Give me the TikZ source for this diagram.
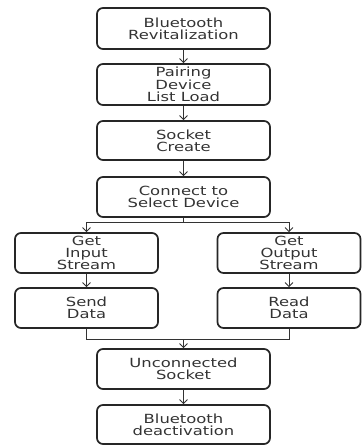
\documentclass[tikz,border=0pt]{standalone}
\usepackage{fontspec}
\setmainfont{DejaVu Sans}[FakeStretch=1.3]
\usetikzlibrary{arrows.meta}
\begin{document}
\begin{tikzpicture}[x=1pt,y=-1pt,
  box/.style={draw=black!85, line width=1.7pt, rounded corners=6pt, align=center,
    minimum width=173pt, minimum height=40pt, inner sep=0pt,
    font=\fontsize{12.6}{12.3}\selectfont, text=black!80},
  sbox/.style={box, minimum width=143pt},
  link/.style={draw=black!80, line width=0.9pt},
  arr/.style={link, -{Straight Barb[length=4pt,width=8pt,line width=0.9pt]}}]
\useasboundingbox (0,0) rectangle (362,446);
\node[box, minimum height=41pt] (b1) at (183.5,28.5) {Bluetooth\\Revitalization};
\node[box, minimum height=41pt] (b2) at (183.5,84.5) {Pairing\\Device\\List Load};
\node[box, minimum height=39pt] (b3) at (183.5,140.5) {Socket\\Create};
\node[box] (b4) at (183.5,197) {Connect to\\Select Device};
\node[sbox] (b5) at (86.5,253) {Get\\Input\\Stream};
\node[sbox] (b6) at (289,253) {Get\\Output\\Stream};
\node[sbox] (b7) at (86.5,308) {Send\\Data};
\node[sbox] (b8) at (289,308) {Read\\Data};
\node[box] (b9) at (183.5,369) {Unconnected\\Socket};
\node[box, minimum height=39pt] (b10) at (183.5,424.5) {Bluetooth\\deactivation};
% straight flow
\draw[arr] (b1) -- (b2);
\draw[arr] (b2) -- (b3);
\draw[arr] (b3) -- (b4);
\draw[arr] (b5) -- (b7);
\draw[arr] (b6) -- (b8);
\draw[arr] (b9) -- (b10);
% split into the two streams
\coordinate (split) at (183.5,222);
\draw[link] (b4.south) -- (split);
\draw[arr] (split) -| (b5.north);
\draw[arr] (split) -| (b6.north);
% merge back
\coordinate (merge) at (183.5,339);
\draw[link] (b7.south) |- (merge);
\draw[link] (b8.south) |- (merge);
\draw[arr] (merge) -- (b9.north);
\end{tikzpicture}
\end{document}
